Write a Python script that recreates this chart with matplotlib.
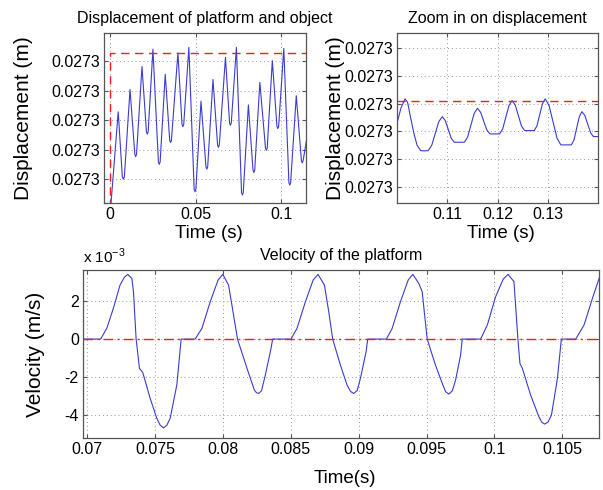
import numpy as np
import matplotlib
matplotlib.use('Agg')
import matplotlib.pyplot as plt
from matplotlib.ticker import FuncFormatter

plt.rcParams['font.family'] = ['Liberation Sans', 'DejaVu Sans']
plt.rcParams['axes.unicode_minus'] = False

# displacement is 0.0273 m plus a few nm, values stored as nm offsets
base = 0.0273

# platform/object displacement, full run
t_disp = [0.0, 0.0006, 0.0048, 0.0072, 0.0078, 0.0084, 0.0117, 0.0145, 0.0150, 0.0155, 0.0187,
          0.0213, 0.0218, 0.0223, 0.0251, 0.0283, 0.0288, 0.0293, 0.0323, 0.0349, 0.0354,
          0.0359, 0.0397, 0.0421, 0.0426, 0.0431, 0.0461, 0.0492, 0.0497, 0.0502, 0.0532,
          0.0561, 0.0566, 0.0571, 0.0602, 0.0629, 0.0634, 0.0639, 0.0675, 0.0699, 0.0704,
          0.0709, 0.0739, 0.0769, 0.0774, 0.0779, 0.0809, 0.0836, 0.0841, 0.0846, 0.0876,
          0.0909, 0.0914, 0.0919, 0.0949, 0.0976, 0.0981, 0.0986, 0.1016, 0.1046, 0.1051,
          0.1056, 0.1089, 0.1119, 0.1124, 0.1129, 0.1149]
d_disp = [0.4, 1.5, 26.2, 8.6, 8.0, 8.6, 32.3, 14.7, 14.1, 14.7, 38.5,
          20.8, 20.2, 20.8, 43.2, 12.6, 12.0, 12.6, 36.4, 18.5, 17.9,
          18.5, 42.2, 22.8, 22.2, 22.8, 43.7, 5.2, 4.6, 5.2, 29.1,
          11.3, 10.7, 11.3, 35.0, 17.2, 16.6, 17.2, 41.0, 23.2, 22.6,
          23.2, 43.7, 4.3, 3.7, 4.3, 28.1, 10.4, 9.8, 10.4, 34.2,
          16.4, 15.8, 16.4, 40.1, 22.3, 21.7, 22.3, 43.4, 7.0, 6.4,
          7.0, 30.6, 13.0, 12.4, 13.0, 18.6]
d_max = 42.2
ticks1 = [8, 16, 24, 32, 40]

# zoomed part
t_zoom = [0.1001, 0.1008, 0.1016, 0.1021, 0.1027, 0.1034, 0.1040, 0.1047, 0.1055, 0.1062,
          0.1069, 0.1076, 0.1083, 0.1090, 0.1096, 0.1102, 0.1108, 0.1114, 0.1134,
          0.11405, 0.1147, 0.11535, 0.1160, 0.11663, 0.11725, 0.11788, 0.1185, 0.1204,
          0.12103, 0.12165, 0.12228, 0.1229, 0.12353, 0.12415, 0.12478, 0.1254, 0.1273,
          0.12785, 0.1284, 0.12895, 0.1295, 0.13028, 0.13105, 0.13183, 0.1326, 0.1347,
          0.13523, 0.13575, 0.13628, 0.1368, 0.13738, 0.13795, 0.13853, 0.1391, 0.1400]
d_zoom = [40.73, 41.7, 42.34, 42.1, 41.0, 39.8, 39.0, 38.62, 38.6, 38.62,
          38.99, 39.84, 40.69, 41.06, 40.78, 40.14, 39.50, 39.22, 39.22,
          39.59, 40.44, 41.29, 41.66, 41.38, 40.74, 40.10, 39.82, 39.82,
          40.18, 41.02, 41.86, 42.22, 41.90, 41.14, 40.38, 40.06, 40.06,
          40.40, 41.20, 42.0, 42.34, 41.84, 40.69, 39.53, 39.03, 39.03,
          39.39, 40.23, 41.06, 41.42, 41.15, 40.53, 39.90, 39.63, 39.63]
ticks2 = [36, 38, 40, 42, 44, 46]

# platform velocity (x 1e-3 m/s)
t_vel = [0.0697, 0.0710, 0.07145, 0.07194, 0.07243, 0.07275, 0.0730, 0.0733, 0.07342, 0.07361,
         0.07386, 0.0741, 0.07465, 0.07514, 0.07538, 0.07563, 0.07588, 0.07612, 0.07661,
         0.07693, 0.07796, 0.07846, 0.07907, 0.07965, 0.0800, 0.08042, 0.08079, 0.08108,
         0.08178, 0.08232, 0.08248, 0.08263, 0.08285, 0.08313, 0.08355, 0.08367, 0.08502,
         0.08546, 0.08608, 0.08665, 0.08701, 0.08748, 0.0878, 0.08809, 0.08866, 0.08915,
         0.0894, 0.08964, 0.0899, 0.09013, 0.09055, 0.09067, 0.09205, 0.09247, 0.09308,
         0.09365, 0.09399, 0.09443, 0.09468, 0.09505, 0.09566, 0.09616, 0.0964, 0.09664,
         0.0969, 0.09714, 0.09751, 0.09763, 0.09898, 0.09948, 0.10009, 0.10065, 0.10100,
         0.10144, 0.10156, 0.10173, 0.10188, 0.10206, 0.10267, 0.10328, 0.10348, 0.10370,
         0.10395, 0.10420, 0.10464, 0.10493, 0.10599, 0.10660, 0.10722, 0.10771, 0.1078]
v_vel = [0, 0, 0.56, 1.62, 2.84, 3.25, 3.40, 3.19, 2.49, 0.04,
         -1.54, -1.75, -3.12, -4.17, -4.52, -4.67, -4.52, -4.17, -2.42,
         0, 0, 0.56, 1.96, 3.1, 3.40, 2.84, 1.26, 0,
         -1.54, -2.68, -2.82, -2.86, -2.72, -1.89, -0.49, 0, 0,
         0.56, 1.96, 3.1, 3.40, 2.84, 1.44, 0, -1.37, -2.42,
         -2.75, -2.86, -2.7, -2.07, -0.67, 0, 0, 0.56, 1.96,
         3.1, 3.40, 2.93, 2.49, 0, -1.37, -2.33, -2.76, -2.89,
         -2.72, -2.16, -0.84, 0, 0, 0.74, 2.23, 3.15, 3.40,
         3.02, 1.79, 0, -1.28, -1.54, -2.95, -4.09, -4.36, -4.47,
         -4.36, -4.0, -2.07, 0, 0, 0.74, 2.14, 3.19, 3.3]

blue = '#3b3bd0'
red = '#ff1a1a'
spine = '#555555'


def style(ax):
    ax.tick_params(direction='in', top=True, right=True, labelsize=11.5,
                   colors='black', length=3, pad=3)
    for s in ax.spines.values():
        s.set_color(spine)
        s.set_linewidth(0.9)
    ax.tick_params(axis='both', color=spine)
    ax.grid(True, color='#999999', linestyle=(0, (1, 3)), linewidth=0.7)
    ax.xaxis.set_major_formatter(FuncFormatter(lambda v, p: '%g' % round(v, 4)))


dispfmt = FuncFormatter(lambda v, p: '%.4f' % v)

fig = plt.figure(figsize=(6.03, 4.90), dpi=100)

# top left
ax1 = fig.add_axes([0.1725, 0.5857, 0.335, 0.347])
ax1.plot(t_disp, base + np.array(d_disp) * 1e-9, color=blue, lw=0.8)
ax1.plot([0, 0, 0.12], [base, base + d_max * 1e-9, base + d_max * 1e-9],
         color=red, ls=(0, (6, 4)), lw=1.0)
ax1.set_xlim(-0.0035, 0.1146)
ax1.set_ylim(base + 1.52e-9, base + 47.6e-9)
ax1.set_xticks([0, 0.05, 0.1])
ax1.set_yticks(base + np.array(ticks1) * 1e-9)
style(ax1)
ax1.yaxis.set_major_formatter(dispfmt)
ax1.set_title('Displacement of platform and object', fontsize=11.5, pad=7)
ax1.set_xlabel('Time (s)', fontsize=13.5)
ax1.set_ylabel('Displacement (m)', fontsize=15)
ax1.xaxis.set_label_coords(0.52, -0.13)
ax1.yaxis.set_label_coords(-0.351, 0.5)

# top right
ax2 = fig.add_axes([0.6584, 0.5857, 0.3333, 0.347])
ax2.plot(t_zoom, base + np.array(d_zoom) * 1e-9, color=blue, lw=0.8)
ax2.axhline(base + d_max * 1e-9, color=red, ls=(0, (6, 4)), lw=1.0)
ax2.set_xlim(0.1, 0.14)
ax2.set_ylim(base + 34.85e-9, base + 47.08e-9)
ax2.set_xticks([0.11, 0.12, 0.13])
ax2.set_yticks(base + np.array(ticks2) * 1e-9)
style(ax2)
ax2.yaxis.set_major_formatter(dispfmt)
ax2.set_title('Zoom in on displacement', fontsize=11.5, pad=7)
ax2.set_xlabel('Time (s)', fontsize=13.5)
ax2.set_ylabel('Displacement (m)', fontsize=15)
ax2.xaxis.set_label_coords(0.517, -0.13)
ax2.yaxis.set_label_coords(-0.259, 0.5)

# bottom
ax3 = fig.add_axes([0.1376, 0.1061, 0.8557, 0.3429])
ax3.plot(t_vel, v_vel, color=blue, lw=0.8)
ax3.axhline(0, color=red, ls=(0, (7, 3, 1.5, 3)), lw=1.0)
ax3.set_xlim(0.0697, 0.1077)
ax3.set_ylim(-5.2, 3.63)
ax3.set_xticks(np.arange(0.07, 0.1051, 0.005))
ax3.set_yticks([-4, -2, 0, 2])
style(ax3)
ax3.set_title('Velocity of the platform', fontsize=11.5, pad=7)
ax3.set_xlabel('Time(s)', fontsize=13.5)
ax3.set_ylabel('Velocity (m/s)', fontsize=15)
ax3.xaxis.set_label_coords(0.508, -0.19)
ax3.yaxis.set_label_coords(-0.074, 0.5)
fig.text(83 / 603, 1 - 263 / 490, r'x 10$^{\mathregular{-3}}$', fontsize=11)

fig.savefig('out.png', dpi=100, facecolor='white')
